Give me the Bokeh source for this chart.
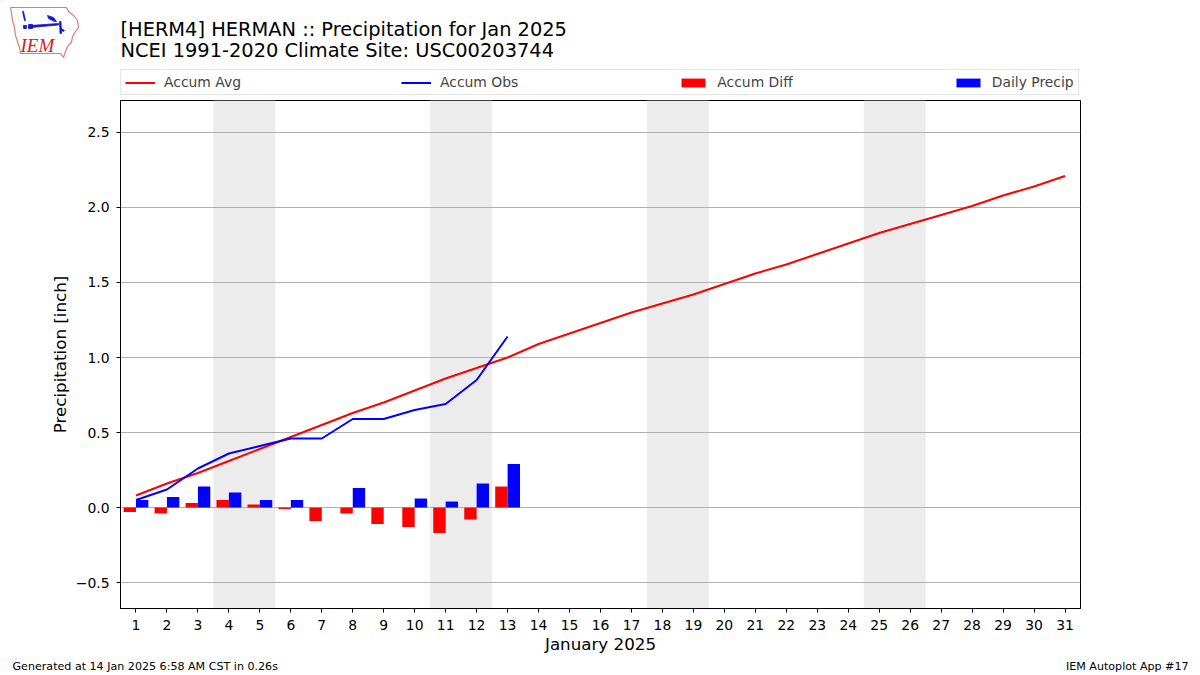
from bokeh.plotting import figure
from bokeh.layouts import column
from bokeh.models import (Range1d, BoxAnnotation, Legend, LegendItem,
                          FixedTicker, ColumnDataSource)
from bokeh.transform import dodge
from bokeh.core.properties import value
from bokeh.embed import file_html
from bokeh.resources import INLINE

# ---------------- data ----------------
days = list(range(1, 32))
accum_avg = [0.08, 0.16, 0.23, 0.31, 0.39, 0.47, 0.55, 0.63, 0.70, 0.78,
             0.86, 0.93, 1.00, 1.09, 1.16, 1.23, 1.30, 1.36, 1.42, 1.49,
             1.56, 1.62, 1.69, 1.76, 1.83, 1.89, 1.95, 2.01, 2.08, 2.14, 2.21]
obs_days = list(range(1, 14))
daily_precip = [0.05, 0.07, 0.14, 0.10, 0.05, 0.05, 0.00, 0.13, 0.00, 0.06,
                0.04, 0.16, 0.29]
accum_obs = [0.05, 0.12, 0.26, 0.36, 0.41, 0.46, 0.46, 0.59, 0.59, 0.65,
             0.69, 0.85, 1.14]
accum_diff = [-0.03, -0.04, 0.03, 0.05, 0.02, -0.01, -0.09, -0.04, -0.11,
              -0.13, -0.17, -0.08, 0.14]
weekend_first_days = [4, 11, 18, 25]
y_ticks = [-0.5, 0.0, 0.5, 1.0, 1.5, 2.0, 2.5]
y_tick_labels = ["\u22120.5", "0.0", "0.5", "1.0", "1.5", "2.0", "2.5"]
title_lines = ["[HERM4] HERMAN :: Precipitation for Jan 2025",
               "NCEI 1991-2020 Climate Site: USC00203744"]
legend_labels = ["Accum Avg", "Accum Obs", "Accum Diff", "Daily Precip"]
x_label = "January 2025"
y_label = "Precipitation [inch]"
footer_left = "Generated at 14 Jan 2025 6:58 AM CST in 0.26s"
footer_right = "IEM Autoplot App #17"

FONT = "DejaVu Sans"
W = 1200
HEAD_H, MAIN_H, FOOT_H = 96, 564, 15


def blank(height):
    f = figure(width=W, height=height, output_backend="svg", toolbar_location=None,
               x_range=Range1d(0, W), y_range=Range1d(height, 0),
               x_axis_type=None, y_axis_type=None, min_border=0,
               min_border_left=0, min_border_right=0,
               min_border_top=0, min_border_bottom=0)
    f.grid.visible = False
    f.outline_line_color = None
    f.background_fill_color = "white"
    f.border_fill_color = "white"
    f.frame_align = False
    return f


# ---------------- header: logo, titles, legend ----------------
head = blank(HEAD_H)
iowa_x = [10, 66, 68, 73, 77, 78, 75, 72, 71, 67, 65, 63, 60, 20, 19, 17, 15, 14, 12, 11]
iowa_y = [7, 7, 11, 15, 20, 27, 31, 36, 42, 46, 51, 57, 53, 53, 47, 41, 35, 27, 20, 13]
head.patch(iowa_x, iowa_y, fill_color="white", line_color="#e07a7a", line_width=1.2)
logo_parts_x = [[30, 58, 58, 30], [28, 32, 32, 28], [47, 53, 56, 54, 48],
                [59, 60.5, 61, 59.5], [22, 23, 25, 24], [23, 26, 26, 23],
                [61, 64, 63, 61]]
logo_parts_y = [[25, 23, 24.5, 27], [24, 24, 28, 28], [15, 17, 21, 21, 18],
                [21, 21, 33, 33], [11, 11, 20, 20], [25, 25, 28, 28],
                [28, 30, 31, 30]]
head.patches(logo_parts_x, logo_parts_y, fill_color="#1515d0",
             line_color="#1515d0", line_width=0.8)
head.text(x=[20], y=[45], text=["IEM"], text_font=value("Liberation Serif"),
          text_font_style="italic", text_font_size=value("19px"),
          text_color="#d42020", text_baseline="middle", text_align="left")
head.text(x=[120, 120], y=[29, 50], text=title_lines, text_font=value(FONT),
          text_font_size=value("19.4px"), text_color="black",
          text_baseline="middle", text_align="left")

# legend proxies: off-canvas points, only their look is used by the legend
lg_avg = head.line([-60, -50], [-60, -60], line_color="red", line_width=2)
lg_obs = head.line([-60, -50], [-60, -60], line_color="blue", line_width=2)
lg_diff = head.vbar(x=[-60], top=[-60], bottom=[-70], width=5,
                    fill_color="red", line_color=None)
lg_daily = head.vbar(x=[-60], top=[-60], bottom=[-70], width=5,
                     fill_color="blue", line_color=None)
legend = Legend(items=[LegendItem(label=legend_labels[0], renderers=[lg_avg]),
                       LegendItem(label=legend_labels[1], renderers=[lg_obs]),
                       LegendItem(label=legend_labels[2], renderers=[lg_diff]),
                       LegendItem(label=legend_labels[3], renderers=[lg_daily])],
                orientation="horizontal", location=(120, 1),
                spacing=160, padding=4, margin=0,
                glyph_width=30, glyph_height=11, label_height=15,
                label_standoff=9, label_text_font=FONT,
                label_text_font_size="13.9px",
                border_line_color="#cccccc", border_line_width=1,
                background_fill_color="white", background_fill_alpha=1.0)
head.add_layout(legend)

# ---------------- main chart ----------------
p = figure(width=W, height=MAIN_H, output_backend="svg", toolbar_location=None,
           x_range=Range1d(0.5, 31.5), y_range=Range1d(-0.673, 2.713),
           min_border_left=120, min_border_right=120,
           min_border_top=4, min_border_bottom=52)
p.frame_align = False
p.background_fill_color = "white"
p.border_fill_color = "white"
p.outline_line_color = "black"
p.outline_line_alpha = 1.0
p.outline_line_width = 1

for d in weekend_first_days:
    p.add_layout(BoxAnnotation(left=d - 0.5, right=d + 1.5, fill_color="#ececec",
                               fill_alpha=1.0, line_color=None, level="image"))

p.xaxis.ticker = FixedTicker(ticks=days)
p.yaxis.ticker = FixedTicker(ticks=y_ticks)
p.yaxis.major_label_overrides = {t: l for t, l in zip(y_ticks, y_tick_labels)}
for ax in (p.xaxis[0], p.yaxis[0]):
    ax.minor_tick_line_color = None
    ax.major_tick_in = 0
    ax.major_tick_out = 4
    ax.major_tick_line_color = "black"
    ax.axis_line_color = "black"
    ax.major_label_text_font = FONT
    ax.major_label_text_font_size = "13.9px"
    ax.major_label_text_color = "black"
    ax.axis_label_text_font = FONT
    ax.axis_label_text_font_size = "16.7px"
    ax.axis_label_text_font_style = "normal"
    ax.axis_label_text_color = "black"
p.xaxis.axis_label = x_label
p.yaxis.axis_label = y_label
p.xaxis.major_label_standoff = 7
p.xaxis.axis_label_standoff = 1
p.yaxis.major_label_standoff = 7
p.yaxis.axis_label_standoff = 3

p.xgrid.visible = False
p.ygrid.grid_line_color = "#b0b0b0"
p.ygrid.grid_line_width = 1

src = ColumnDataSource(dict(day=obs_days, diff=accum_diff, daily=daily_precip,
                            obs=accum_obs))
p.vbar(x=dodge("day", -0.2, range=p.x_range), top="diff", width=0.4,
       source=src, fill_color="red", line_color=None)
p.vbar(x=dodge("day", 0.2, range=p.x_range), top="daily", width=0.4,
       source=src, fill_color="blue", line_color=None)
p.line(days, accum_avg, line_color="red", line_width=2)
p.line("day", "obs", source=src, line_color="blue", line_width=2)

# ---------------- footer ----------------
foot = blank(FOOT_H)
foot.text(x=[12], y=[6], text=[footer_left], text_font=value(FONT),
          text_font_size=value("11.1px"), text_color="black",
          text_baseline="middle", text_align="left")
foot.text(x=[1188], y=[6], text=[footer_right], text_font=value(FONT),
          text_font_size=value("11.1px"), text_color="black",
          text_baseline="middle", text_align="right")

layout = column(head, p, foot, spacing=0)
open("out.html", "w").write(file_html(layout, INLINE))
